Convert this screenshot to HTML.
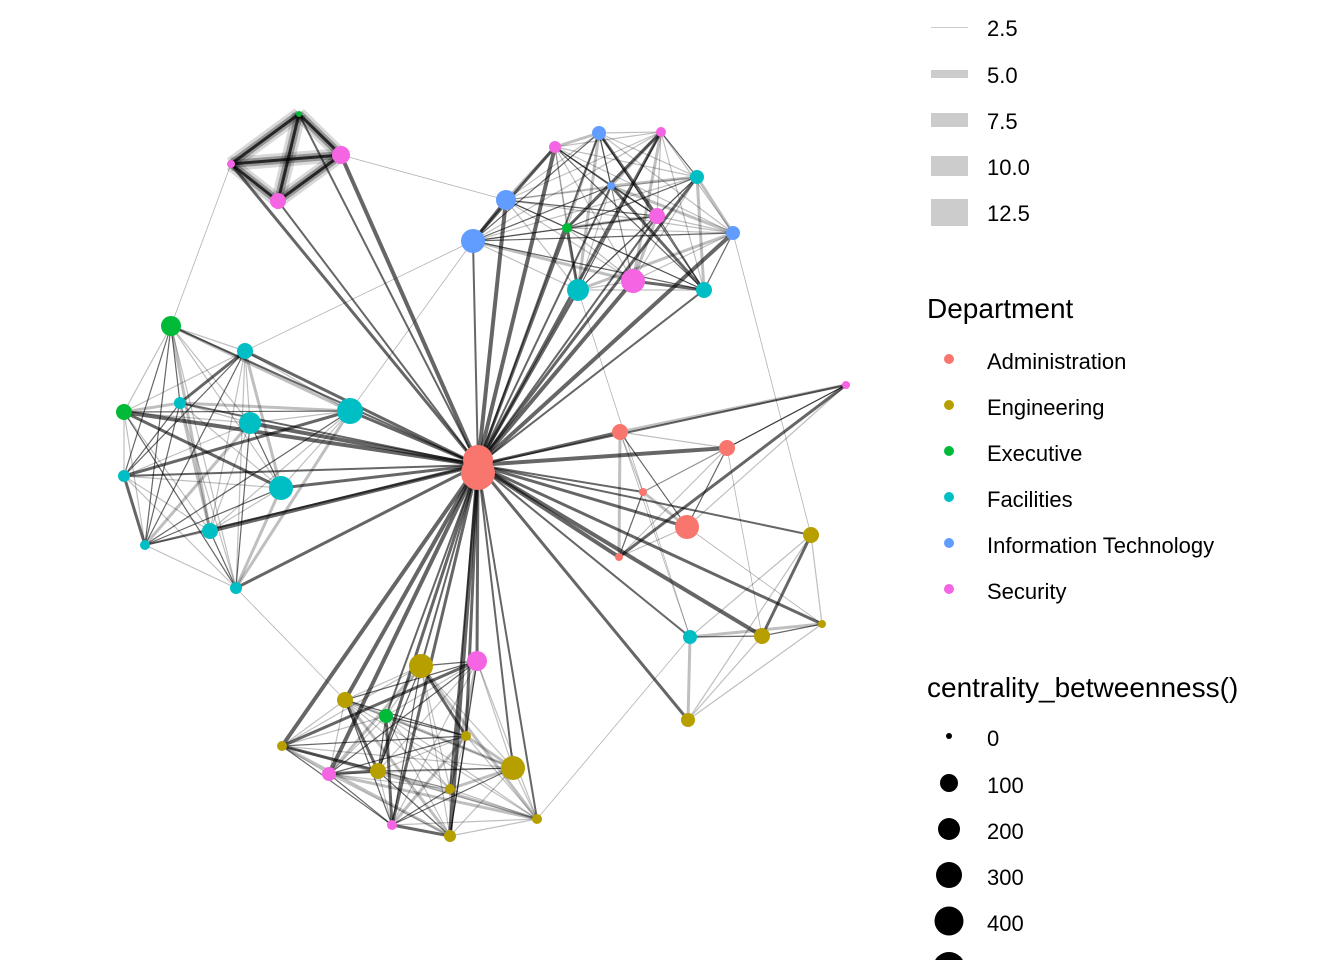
<!DOCTYPE html>
<html><head><meta charset="utf-8"><style>
body{margin:0;background:#fff;}
svg{display:block;font-family:"Liberation Sans",sans-serif;}
</style></head><body>
<svg id="s" width="1344" height="960" xmlns="http://www.w3.org/2000/svg">
<g id="edges"></g><g id="nodes"></g>
<g font-size="22" fill="#000">
<rect x="931" y="27" width="37" height="1" fill="#ccc"/>
<rect x="931" y="70" width="37" height="8" fill="#ccc"/>
<rect x="931" y="113" width="37" height="14" fill="#ccc"/>
<rect x="931" y="156" width="37" height="20" fill="#ccc"/>
<rect x="931" y="199" width="37" height="27" fill="#ccc"/>
<text x="987" y="36">2.5</text><text x="987" y="83">5.0</text><text x="987" y="129">7.5</text><text x="987" y="175">10.0</text><text x="987" y="221">12.5</text>
<text x="927" y="318" font-size="28">Department</text>
<circle cx="949" cy="359" r="5" fill="#F8766D"/><text x="987" y="369">Administration</text>
<circle cx="949" cy="405" r="5" fill="#B79F00"/><text x="987" y="415">Engineering</text>
<circle cx="949" cy="451" r="5" fill="#00BA38"/><text x="987" y="461">Executive</text>
<circle cx="949" cy="497" r="5" fill="#00BFC4"/><text x="987" y="507">Facilities</text>
<circle cx="949" cy="543" r="5" fill="#619CFF"/><text x="987" y="553">Information Technology</text>
<circle cx="949" cy="589" r="5" fill="#F564E3"/><text x="987" y="599">Security</text>
<text x="927" y="697" font-size="28">centrality_betweenness()</text>
<circle cx="949" cy="736" r="3"/><text x="987" y="746">0</text>
<circle cx="949" cy="783" r="9"/><text x="987" y="793">100</text>
<circle cx="949" cy="829" r="11"/><text x="987" y="839">200</text>
<circle cx="949" cy="875" r="13"/><text x="987" y="885">300</text>
<circle cx="949" cy="921" r="14.5"/><text x="987" y="931">400</text>
<circle cx="949" cy="968" r="16"/>
</g>
<script>
var A="#F8766D",E="#B79F00",X="#00BA38",F="#00BFC4",I="#619CFF",S="#F564E3";
var C=[[[299,114,X,3],[231,164,S,4],[341,155,S,9],[278,201,S,8]],
[[599,133,I,7],[661,132,S,5],[555,147,S,6],[611,186,I,4],[697,177,F,7],[506,200,I,10],[657,216,S,8],[567,228,X,5],[733,233,I,7],[473,241,I,12],[578,290,F,11],[633,281,S,12],[704,290,F,8]],
[[171,326,X,10],[245,351,F,8],[124,412,X,8],[180,403,F,6],[350,411,F,13],[250,423,F,11],[124,476,F,6],[281,488,F,12],[210,531,F,8],[145,545,F,5],[236,588,F,6]],
[[846,385,S,4],[620,432,A,8],[727,448,A,8],[643,492,A,4],[687,527,A,12],[619,557,A,4]],
[[811,535,E,8],[822,624,E,4],[762,636,E,8],[690,637,F,7],[688,720,E,7]],
[[421,666,E,12],[477,661,S,10],[345,700,E,8],[386,716,X,7],[466,736,E,5],[282,746,E,5],[513,768,E,12],[378,771,E,8],[329,774,S,7],[450,789,E,5],[392,825,S,5],[450,836,E,6],[537,819,E,5]]];
var ns="http://www.w3.org/2000/svg",eg=document.getElementById("edges"),ng=document.getElementById("nodes");
function L(a,b,w,o){var l=document.createElementNS(ns,"line");l.setAttribute("x1",a[0]);l.setAttribute("y1",a[1]);l.setAttribute("x2",b[0]);l.setAttribute("y2",b[1]);l.setAttribute("stroke","#000");l.setAttribute("stroke-width",w);l.setAttribute("stroke-opacity",o);eg.appendChild(l);}
var ctr=[478,465],k=0;
C.forEach(function(c,ci){c.forEach(function(n,i){
 L(n,ctr,2+(i%3),0.6);
 c.forEach(function(m,j){if(j>i){k++;
  if(ci==0){L(n,m,14,0.15);L(n,m,8,0.3);L(n,m,3,0.75);}
  else{var w=(k%4==0)?3:1.2;L(n,m,w,(k%3==0)?0.6:0.25);}}});
});});
[[C[0][1],C[2][0]],[C[0][2],C[1][5]],[C[2][1],C[1][9]],[C[1][8],C[4][0]],[C[3][0],C[3][2]],[C[2][10],C[5][2]],[C[4][3],C[5][12]],[C[1][10],C[4][3]],[C[2][4],C[1][9]],[C[3][4],C[4][1]],[C[3][2],C[4][2]],[C[3][1],C[4][3]]].forEach(function(p){L(p[0],p[1],0.8,0.3);});
C.forEach(function(c){c.forEach(function(n){var e=document.createElementNS(ns,"circle");e.setAttribute("cx",n[0]);e.setAttribute("cy",n[1]);e.setAttribute("r",n[3]);e.setAttribute("fill",n[2]);ng.appendChild(e);});});
[[478,460,15],[478,473,17]].forEach(function(n){var e=document.createElementNS(ns,"circle");e.setAttribute("cx",n[0]);e.setAttribute("cy",n[1]);e.setAttribute("r",n[2]);e.setAttribute("fill",A);ng.appendChild(e);});
</script>
</svg>
</body></html>
